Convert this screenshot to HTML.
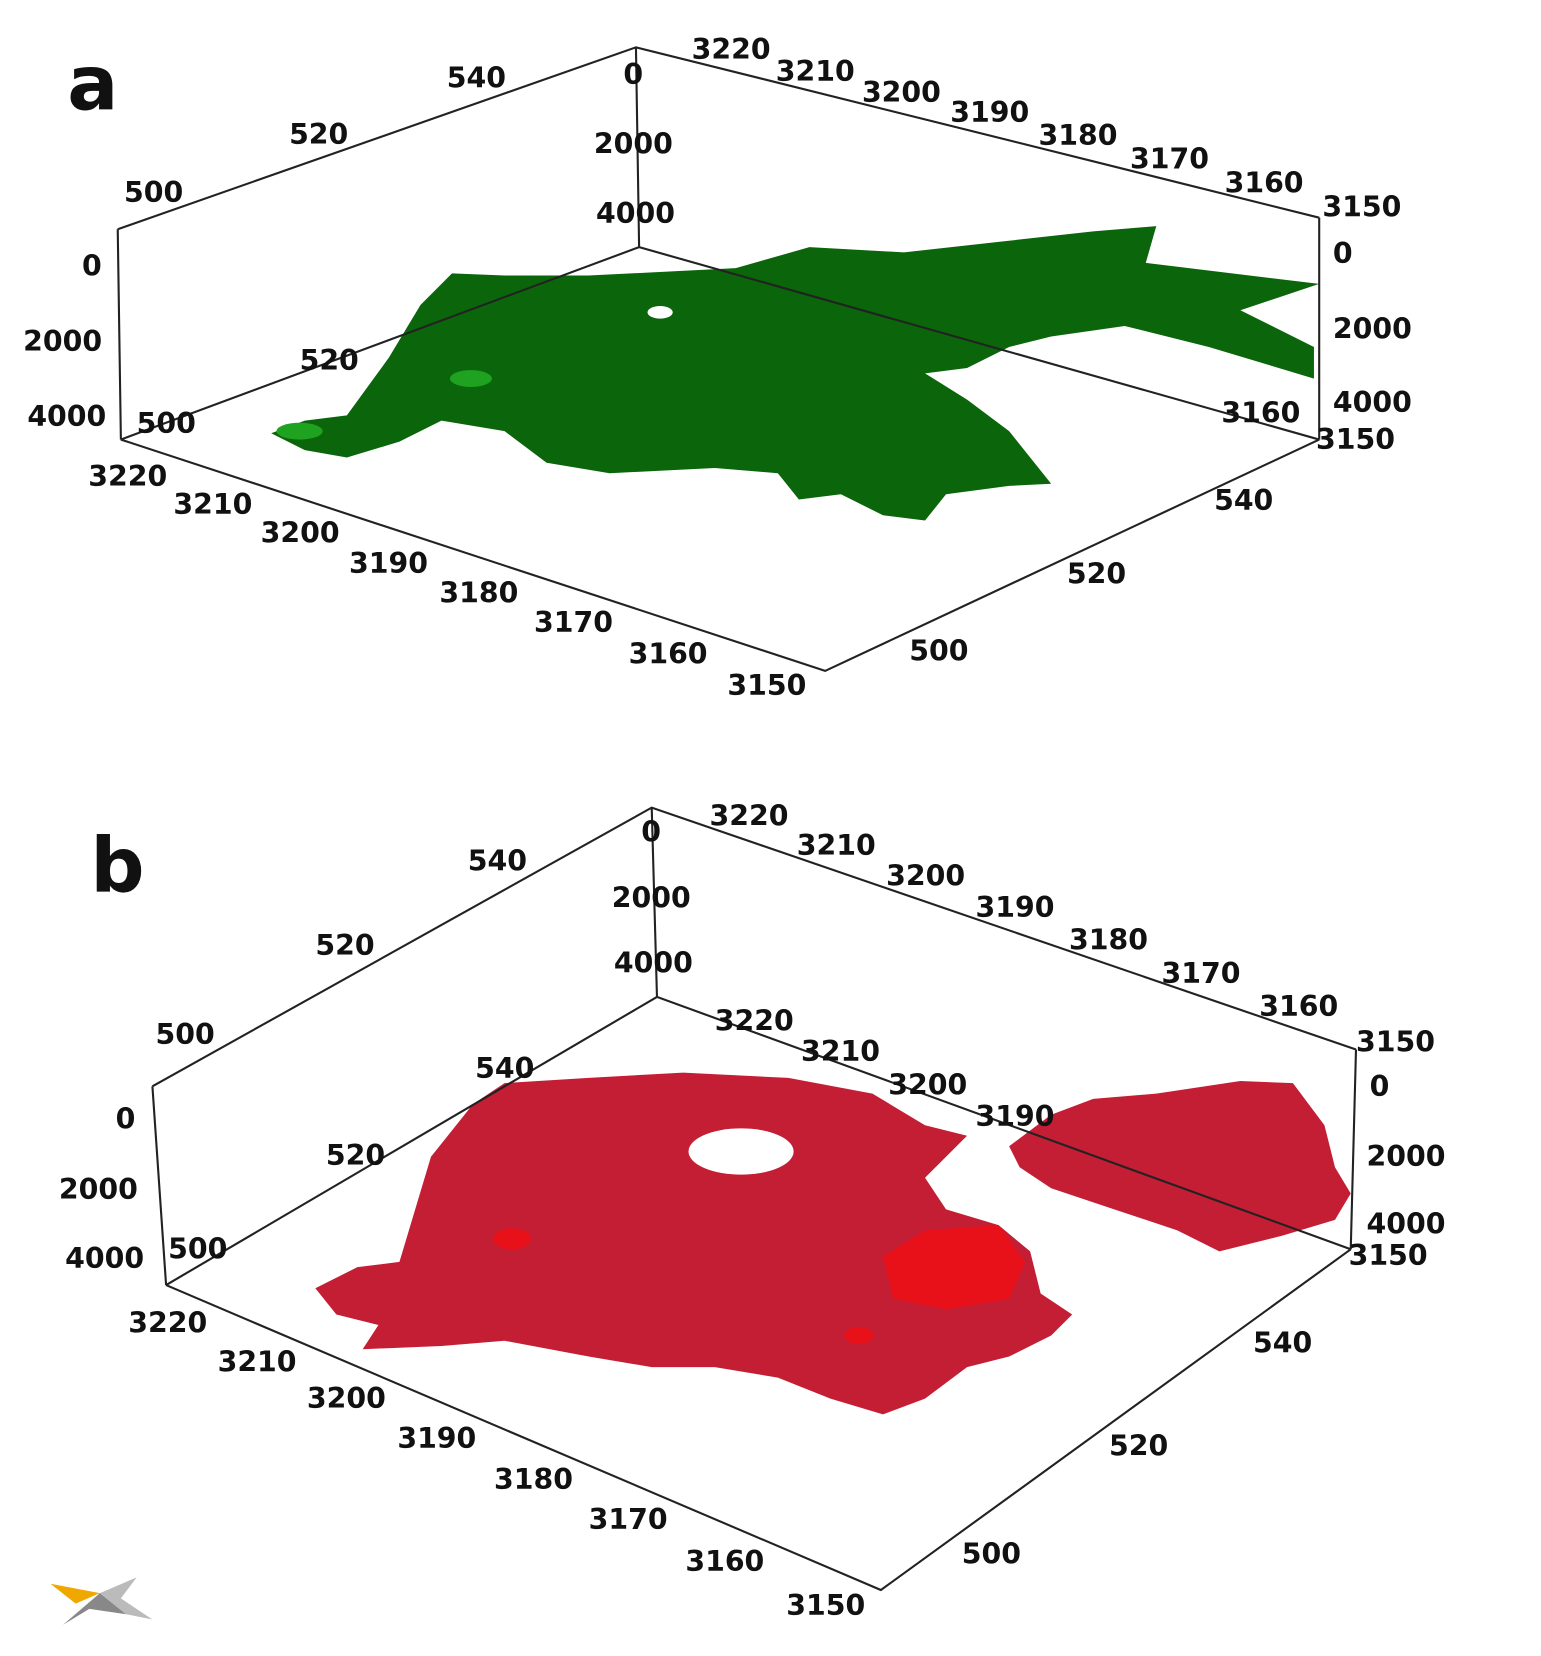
<!DOCTYPE html>
<html><head><meta charset="utf-8"><style>
html,body{margin:0;padding:0;background:#fff}
svg text{font-family:"DejaVu Sans","Liberation Sans",sans-serif;font-weight:bold;fill:#111}
</style></head><body>
<svg width="1541" height="1651" viewBox="0 0 1466 1570" preserveAspectRatio="none" xmlns="http://www.w3.org/2000/svg">
<rect width="1466" height="1570" fill="#fff"/>
<!-- panel a -->
<path d="M258,412 L290,400 L330,395 L370,340 L400,290 L430,260 L480,262 L560,262 L700,255 L770,235 L860,240 L950,230 L1040,220 L1100,215 L1090,250 L1255,270 L1180,295 L1250,330 L1250,360 L1200,345 L1150,330 L1070,310 L1000,320 L960,330 L920,350 L880,355 L920,380 L960,410 L1000,460 L960,462 L900,470 L880,495 L840,490 L800,470 L760,475 L740,450 L680,445 L580,450 L520,440 L480,410 L420,400 L380,420 L330,435 L290,428 Z" fill="#0b650b"/>
<ellipse cx="448" cy="360" rx="20" ry="8" fill="#1fa21f"/>
<ellipse cx="285" cy="410" rx="22" ry="8" fill="#1fa21f"/>
<ellipse cx="628" cy="297" rx="12" ry="6" fill="#fff"/>
<g stroke="#222" stroke-width="2" fill="none">
<path d="M112,218 L605,45 L1255,207 M605,45 L608,235 M112,218 L115,418 M1255,207 L1255,418 M115,418 L608,235 L1255,418 M115,418 L785,638 L1255,418"/>
</g>
<g font-size="27">
<text x="64" y="104" font-size="72" font-family="Liberation Sans" font-weight="normal">a</text>
<text x="425" y="83">540</text><text x="275" y="137">520</text><text x="118" y="192">500</text>
<text x="593" y="80">0</text><text x="565" y="146">2000</text><text x="567" y="212">4000</text>
<text x="78" y="262">0</text><text x="22" y="334">2000</text><text x="26" y="405">4000</text>
<text x="1268" y="250">0</text><text x="1268" y="322">2000</text><text x="1268" y="392">4000</text>
<text x="658" y="56">3220</text><text x="738" y="77">3210</text><text x="820" y="97">3200</text><text x="904" y="116">3190</text><text x="988" y="138">3180</text><text x="1075" y="160">3170</text><text x="1165" y="183">3160</text><text x="1258" y="206">3150</text>
<text x="84" y="462">3220</text><text x="165" y="489">3210</text><text x="248" y="516">3200</text><text x="332" y="545">3190</text><text x="418" y="573">3180</text><text x="508" y="601">3170</text><text x="598" y="631">3160</text><text x="692" y="661">3150</text>
<text x="1252" y="427">3150</text><text x="1155" y="485">540</text><text x="1015" y="555">520</text><text x="865" y="628">500</text>
<text x="285" y="352">520</text><text x="130" y="412">500</text><text x="1162" y="402">3160</text>
</g>
<!-- panel b -->
<path d="M300,1225 L340,1205 L380,1200 L410,1100 L450,1050 L480,1030 L560,1025 L650,1020 L750,1025 L830,1040 L880,1070 L920,1080 L900,1100 L880,1120 L900,1150 L950,1165 L980,1190 L990,1230 L1020,1250 L1000,1270 L960,1290 L920,1300 L880,1330 L840,1345 L790,1330 L740,1310 L680,1300 L620,1300 L560,1290 L480,1275 L420,1280 L345,1283 L360,1260 L320,1250 Z" fill="#c41e35"/>
<ellipse cx="705" cy="1095" rx="50" ry="22" fill="#fff"/>
<path d="M960,1090 L1000,1060 L1040,1045 L1100,1040 L1180,1028 L1230,1030 L1260,1070 L1270,1110 L1285,1135 L1270,1160 L1220,1175 L1160,1190 L1120,1170 L1060,1150 L1000,1130 L970,1110 Z" fill="#c41e35"/>
<path d="M840,1195 L880,1170 L950,1165 L975,1200 L960,1235 L900,1245 L850,1235 Z" fill="#e8111a"/>
<ellipse cx="487" cy="1178" rx="18" ry="10" fill="#e8111a"/>
<ellipse cx="817" cy="1270" rx="14" ry="8" fill="#e8111a"/>
<g stroke="#222" stroke-width="2" fill="none">
<path d="M145,1033 L620,768 L1290,998 M620,768 L625,948 M145,1033 L158,1222 M1290,998 L1285,1188 M158,1222 L625,948 L1285,1188 M158,1222 L838,1512 L1285,1188"/>
</g>
<g font-size="27">
<text x="86" y="848" font-size="72" font-family="Liberation Sans" font-weight="normal">b</text>
<text x="445" y="828">540</text><text x="300" y="908">520</text><text x="148" y="993">500</text>
<text x="610" y="800">0</text><text x="582" y="863">2000</text><text x="584" y="925">4000</text>
<text x="110" y="1073">0</text><text x="56" y="1140">2000</text><text x="62" y="1206">4000</text>
<text x="1303" y="1042">0</text><text x="1300" y="1109">2000</text><text x="1300" y="1173">4000</text>
<text x="675" y="785">3220</text><text x="758" y="813">3210</text><text x="843" y="842">3200</text><text x="928" y="872">3190</text><text x="1017" y="903">3180</text><text x="1105" y="935">3170</text><text x="1198" y="966">3160</text><text x="1290" y="1000">3150</text>
<text x="680" y="980">3220</text><text x="762" y="1009">3210</text><text x="845" y="1041">3200</text><text x="928" y="1071">3190</text>
<text x="452" y="1025">540</text><text x="310" y="1108">520</text><text x="160" y="1197">500</text>
<text x="122" y="1267">3220</text><text x="207" y="1304">3210</text><text x="292" y="1339">3200</text><text x="378" y="1377">3190</text><text x="470" y="1416">3180</text><text x="560" y="1454">3170</text><text x="652" y="1494">3160</text><text x="748" y="1536">3150</text>
<text x="1283" y="1203">3150</text><text x="1192" y="1286">540</text><text x="1055" y="1384">520</text><text x="915" y="1487">500</text>
</g>
<!-- logo -->
<polygon points="48,1506 95,1515 72,1525" fill="#f0a800"/>
<polygon points="60,1545 95,1515 120,1535 85,1530" fill="#888"/>
<polygon points="95,1515 130,1500 115,1520 145,1540 120,1535" fill="#bbb"/>
</svg>
</body></html>
